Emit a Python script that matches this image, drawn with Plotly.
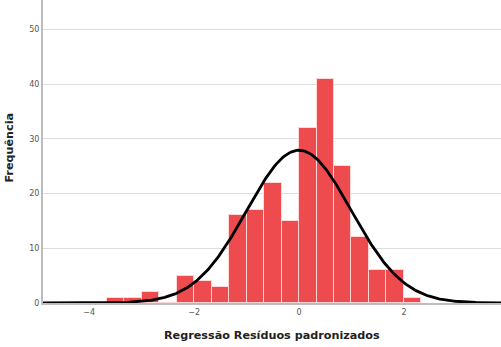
import numpy as np
import plotly.graph_objects as go

# Histogram of standardized regression residuals
bin_left_edges = [-11/3, -10/3, -3.0, -8/3, -7/3, -2.0, -5/3, -4/3, -1.0, -2/3, -1/3,
                  0.0, 1/3, 2/3, 1.0, 4/3, 5/3, 2.0]
counts = [1, 1, 2, 0, 5, 4, 3, 16, 17, 22, 15, 32, 41, 25, 12, 6, 6, 1]
bin_width = 1/3

# Fitted normal curve parameters
mean = 0.0
std = 0.995
n = sum(counts)

x_ticks = [-4, -2, 0, 2]
x_tick_text = ["\u22124", "\u22122", "0", "2"]
y_ticks = [0, 10, 20, 30, 40, 50]
x_title = "Regressão Resíduos padronizados"
y_title = "Frequência"

centers = [e + bin_width / 2 for e in bin_left_edges]

xr = [-4.88, 3.85]
xc = np.linspace(xr[0], xr[1], 400)
yc = n * bin_width / (std * np.sqrt(2 * np.pi)) * np.exp(-0.5 * ((xc - mean) / std) ** 2)

fig = go.Figure()
fig.add_trace(go.Bar(
    x=centers, y=counts, width=bin_width,
    marker=dict(color="#EE4B4E", line=dict(color="rgba(255,215,215,1)", width=1)),
    hoverinfo="skip",
))
fig.add_trace(go.Scatter(
    x=xc, y=yc, mode="lines",
    line=dict(color="black", width=2.8), hoverinfo="skip",
))

fig.update_layout(
    width=501, height=347,
    margin=dict(l=43, r=0, t=0, b=44, autoexpand=False),
    plot_bgcolor="white", paper_bgcolor="white",
    showlegend=False, bargap=0,
    font=dict(family="DejaVu Sans", color="#333333"),
    annotations=[
        dict(text="<b>" + x_title + "</b>", xref="paper", yref="paper",
             x=0.5, y=-32/303, xanchor="center", yanchor="middle", showarrow=False,
             font=dict(size=11.2, color="#222222")),
        dict(text="<b>" + y_title + "</b>", xref="paper", yref="paper",
             x=-33/458, y=0.513, xanchor="center", yanchor="middle", showarrow=False,
             textangle=-90, font=dict(size=11.2, color="#222222")),
    ],
)
fig.update_xaxes(
    range=xr, tickvals=x_ticks, ticktext=x_tick_text, automargin=False,
    showgrid=False, zeroline=False,
    showline=True, linecolor="#BDBDBD", linewidth=2,
    tickfont=dict(size=8, color="#555555"),
)
fig.update_yaxes(
    range=[0, 55.4], tickvals=y_ticks, automargin=False,
    showgrid=True, gridcolor="#DDDDDD", gridwidth=1.2, zeroline=False,
    showline=True, linecolor="#BDBDBD", linewidth=2,
    tickfont=dict(size=8, color="#555555"),
)

fig.write_html("out.html", config={"displayModeBar": False},
               post_script="document.body.style.margin='0';document.body.style.overflow='hidden';")
